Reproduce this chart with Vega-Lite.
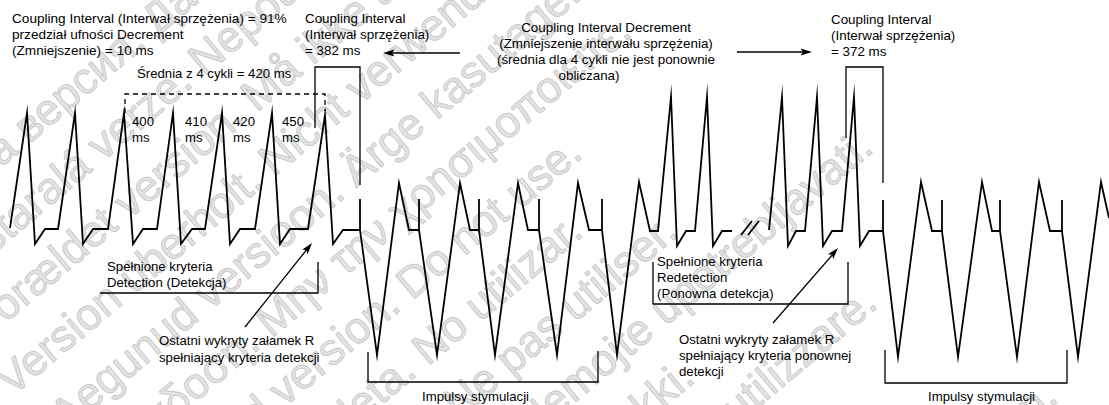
{
  "$schema": "https://vega.github.io/schema/vega-lite/v6.json",
  "width": 1109,
  "height": 405,
  "autosize": {"type": "none"},
  "padding": 0,
  "background": "white",
  "config": {"view": {"stroke": null}},
  "datasets": {
    "watermark": [
      {"x":151,"y":25,"t":"Остаряла версия. Да не се използва."},
      {"x":160,"y":97,"t":"Zastaralá verze. Nepoužívat."},
      {"x":253,"y":99,"t":"Forældet version. Må ikke anvendes."},
      {"x":265,"y":168,"t":"Version überholt. Nicht verwenden."},
      {"x":316,"y":205,"t":"Aegunud versioon. Ärge kasutage."},
      {"x":332,"y":271,"t":"Παλιά έκδοση. Μην την χρησιμοποιείτε."},
      {"x":352,"y":334,"t":"Outdated version. Do not use."},
      {"x":364,"y":403,"t":"Versión obsoleta. No utilizar."},
      {"x":427,"y":430,"t":"Version obsolète. Ne pas utiliser."},
      {"x":558,"y":400,"t":"Zastarjela verzija. Nemojte upotrebljavati."},
      {"x":513,"y":518,"t":"Úrelt útgáfa. Notið ekki."},
      {"x":621,"y":506,"t":"Versione obsoleta. Non utilizzare."},
      {"x":792,"y":608,"t":"Verouderde versie. Niet gebruiken."}
    ],
    "wave": [
      {"s":"a","i":1,"x":10,"y":228},{"s":"a","i":2,"x":27,"y":113},{"s":"a","i":3,"x":35,"y":244},{"s":"a","i":4,"x":45,"y":229},{"s":"a","i":5,"x":58,"y":229},
      {"s":"a","i":6,"x":75,"y":113},{"s":"a","i":7,"x":83,"y":244},{"s":"a","i":8,"x":93,"y":229},{"s":"a","i":9,"x":108,"y":229},
      {"s":"a","i":10,"x":124,"y":113},{"s":"a","i":11,"x":133,"y":244},{"s":"a","i":12,"x":143,"y":229},{"s":"a","i":13,"x":157,"y":229},
      {"s":"a","i":14,"x":173,"y":113},{"s":"a","i":15,"x":181,"y":244},{"s":"a","i":16,"x":192,"y":229},{"s":"a","i":17,"x":205,"y":229},
      {"s":"a","i":18,"x":222,"y":113},{"s":"a","i":19,"x":230,"y":244},{"s":"a","i":20,"x":240,"y":229},{"s":"a","i":21,"x":255,"y":229},
      {"s":"a","i":22,"x":272,"y":113},{"s":"a","i":23,"x":280,"y":244},{"s":"a","i":24,"x":290,"y":229},{"s":"a","i":25,"x":308,"y":229},
      {"s":"a","i":26,"x":325,"y":115},{"s":"a","i":27,"x":333,"y":244},{"s":"a","i":28,"x":343,"y":230},{"s":"a","i":29,"x":360,"y":230},
      {"s":"a","i":30,"x":360,"y":199},{"s":"a","i":31,"x":360,"y":230},{"s":"a","i":32,"x":377,"y":355},{"s":"a","i":33,"x":399,"y":183},{"s":"a","i":34,"x":409,"y":230},{"s":"a","i":35,"x":419,"y":230},
      {"s":"a","i":36,"x":419,"y":199},{"s":"a","i":37,"x":419,"y":230},{"s":"a","i":38,"x":437,"y":355},{"s":"a","i":39,"x":460,"y":183},{"s":"a","i":40,"x":470,"y":230},{"s":"a","i":41,"x":479,"y":230},
      {"s":"a","i":42,"x":479,"y":199},{"s":"a","i":43,"x":479,"y":230},{"s":"a","i":44,"x":495,"y":355},{"s":"a","i":45,"x":518,"y":183},{"s":"a","i":46,"x":528,"y":230},{"s":"a","i":47,"x":539,"y":230},
      {"s":"a","i":48,"x":539,"y":199},{"s":"a","i":49,"x":539,"y":230},{"s":"a","i":50,"x":557,"y":355},{"s":"a","i":51,"x":578,"y":183},{"s":"a","i":52,"x":589,"y":230},{"s":"a","i":53,"x":602,"y":230},
      {"s":"a","i":54,"x":602,"y":199},{"s":"a","i":55,"x":602,"y":230},{"s":"a","i":56,"x":617,"y":355},{"s":"a","i":57,"x":639,"y":182},{"s":"a","i":58,"x":650,"y":231},{"s":"a","i":59,"x":658,"y":231},
      {"s":"a","i":60,"x":671,"y":97},{"s":"a","i":61,"x":677,"y":246},{"s":"a","i":62,"x":686,"y":231},{"s":"a","i":63,"x":695,"y":231},
      {"s":"a","i":64,"x":707,"y":97},{"s":"a","i":65,"x":713,"y":246},{"s":"a","i":66,"x":722,"y":231},{"s":"a","i":67,"x":732,"y":231},
      {"s":"b","i":1,"x":769,"y":230},{"s":"b","i":2,"x":782,"y":97},{"s":"b","i":3,"x":788,"y":246},{"s":"b","i":4,"x":796,"y":231},{"s":"b","i":5,"x":805,"y":231},
      {"s":"b","i":6,"x":817,"y":97},{"s":"b","i":7,"x":823,"y":246},{"s":"b","i":8,"x":832,"y":231},{"s":"b","i":9,"x":842,"y":231},
      {"s":"b","i":10,"x":854,"y":97},{"s":"b","i":11,"x":860,"y":246},{"s":"b","i":12,"x":869,"y":231},{"s":"b","i":13,"x":883,"y":231},
      {"s":"b","i":14,"x":883,"y":200},{"s":"b","i":15,"x":883,"y":231},{"s":"b","i":16,"x":898,"y":357},{"s":"b","i":17,"x":921,"y":182},{"s":"b","i":18,"x":932,"y":231},{"s":"b","i":19,"x":942,"y":231},
      {"s":"b","i":20,"x":942,"y":200},{"s":"b","i":21,"x":942,"y":231},{"s":"b","i":22,"x":958,"y":357},{"s":"b","i":23,"x":982,"y":182},{"s":"b","i":24,"x":992,"y":231},{"s":"b","i":25,"x":1000,"y":231},
      {"s":"b","i":26,"x":1000,"y":200},{"s":"b","i":27,"x":1000,"y":231},{"s":"b","i":28,"x":1017,"y":357},{"s":"b","i":29,"x":1039,"y":182},{"s":"b","i":30,"x":1050,"y":231},{"s":"b","i":31,"x":1062,"y":231},
      {"s":"b","i":32,"x":1062,"y":200},{"s":"b","i":33,"x":1062,"y":231},{"s":"b","i":34,"x":1078,"y":357},{"s":"b","i":35,"x":1101,"y":182},{"s":"b","i":36,"x":1109,"y":218},
      {"s":"c","i":1,"x":741,"y":235},{"s":"c","i":2,"x":752,"y":221},
      {"s":"d","i":1,"x":748,"y":235},{"s":"d","i":2,"x":759,"y":221}
    ],
    "guide": [
      {"s":"box1","i":1,"x":315,"y":128},{"s":"box1","i":2,"x":315,"y":67},{"s":"box1","i":3,"x":360,"y":67},{"s":"box1","i":4,"x":360,"y":185},
      {"s":"box2","i":1,"x":846,"y":138},{"s":"box2","i":2,"x":846,"y":67},{"s":"box2","i":3,"x":883,"y":67},{"s":"box2","i":4,"x":883,"y":183},
      {"s":"det","i":1,"x":100,"y":293},{"s":"det","i":2,"x":318,"y":293},{"s":"det","i":3,"x":318,"y":262},
      {"s":"redet","i":1,"x":653,"y":262},{"s":"redet","i":2,"x":653,"y":304},{"s":"redet","i":3,"x":848,"y":304},{"s":"redet","i":4,"x":848,"y":262},
      {"s":"imp1","i":1,"x":368,"y":352},{"s":"imp1","i":2,"x":368,"y":382},{"s":"imp1","i":3,"x":598,"y":382},{"s":"imp1","i":4,"x":598,"y":351},
      {"s":"imp2","i":1,"x":885,"y":350},{"s":"imp2","i":2,"x":885,"y":383},{"s":"imp2","i":3,"x":1067,"y":383},{"s":"imp2","i":4,"x":1067,"y":350}
    ],
    "dash": [
      {"s":"avg","i":1,"x":125,"y":113},{"s":"avg","i":2,"x":125,"y":94},{"s":"avg","i":3,"x":325,"y":94},{"s":"avg","i":4,"x":325,"y":111}
    ],
    "arrow": [
      {"x":460,"y":53,"x2":389,"y2":53,"hx":383,"hy":53,"ang":270},
      {"x":737,"y":52,"x2":806,"y2":52,"hx":812,"hy":52,"ang":90},
      {"x":245,"y":327,"x2":308,"y2":248,"hx":312,"hy":243,"ang":38.6},
      {"x":773,"y":323,"x2":834,"y2":253,"hx":838,"hy":248,"ang":41}
    ],
    "label": [
      {"x":12,"y":23,"t":"Coupling Interval (Interwał sprzężenia) = 91%","a":"left","f":13.6},
      {"x":12,"y":39,"t":"przedział ufności Decrement","a":"left","f":13.6},
      {"x":12,"y":55,"t":"(Zmniejszenie) = 10 ms","a":"left","f":13.6},
      {"x":305,"y":23,"t":"Coupling Interval","a":"left","f":13.4},
      {"x":305,"y":39,"t":"(Interwał sprzężenia)","a":"left","f":13.4},
      {"x":305,"y":55,"t":"= 382 ms","a":"left","f":13.4},
      {"x":606,"y":32,"t":"Coupling Interval Decrement","a":"center","f":13.4},
      {"x":606,"y":48,"t":"(Zmniejszenie interwału sprzężenia)","a":"center","f":13.4},
      {"x":606,"y":64,"t":"(średnia dla 4 cykli nie jest ponownie","a":"center","f":13.4},
      {"x":589,"y":80,"t":"obliczana)","a":"center","f":13.4},
      {"x":831,"y":24,"t":"Coupling Interval","a":"left","f":13.4},
      {"x":831,"y":40,"t":"(Interwał sprzężenia)","a":"left","f":13.4},
      {"x":831,"y":56,"t":"= 372 ms","a":"left","f":13.4},
      {"x":137,"y":78,"t":"Średnia z 4 cykli = 420 ms","a":"left","f":13.2},
      {"x":132,"y":126,"t":"400","a":"left","f":13.2},{"x":132,"y":142,"t":"ms","a":"left","f":13.2},
      {"x":185,"y":126,"t":"410","a":"left","f":13.2},{"x":185,"y":142,"t":"ms","a":"left","f":13.2},
      {"x":233,"y":126,"t":"420","a":"left","f":13.2},{"x":233,"y":142,"t":"ms","a":"left","f":13.2},
      {"x":282,"y":126,"t":"450","a":"left","f":13.2},{"x":282,"y":142,"t":"ms","a":"left","f":13.2},
      {"x":107,"y":271,"t":"Spełnione kryteria","a":"left","f":13.2},
      {"x":107,"y":287,"t":"Detection (Detekcja)","a":"left","f":13.2},
      {"x":159,"y":345,"t":"Ostatni wykryty załamek R","a":"left","f":13.2},
      {"x":159,"y":362,"t":"spełniający kryteria detekcji","a":"left","f":13.2},
      {"x":657,"y":266,"t":"Spełnione kryteria","a":"left","f":13.2},
      {"x":657,"y":282,"t":"Redetection","a":"left","f":13.2},
      {"x":657,"y":298,"t":"(Ponowna detekcja)","a":"left","f":13.2},
      {"x":679,"y":344,"t":"Ostatni wykryty załamek R","a":"left","f":13.2},
      {"x":679,"y":360,"t":"spełniający kryteria ponownej","a":"left","f":13.2},
      {"x":679,"y":376,"t":"detekcji","a":"left","f":13.2},
      {"x":422,"y":401,"t":"Impulsy stymulacji","a":"left","f":13.2},
      {"x":928,"y":401,"t":"Impulsy stymulacji","a":"left","f":13.2}
    ]
  },
  "encoding": {
    "x": {"field": "x", "type": "quantitative", "scale": {"domain": [0, 1109], "nice": false, "zero": false}, "axis": null},
    "y": {"field": "y", "type": "quantitative", "scale": {"domain": [0, 405], "reverse": true, "nice": false, "zero": false}, "axis": null}
  },
  "layer": [
    {
      "data": {"name": "watermark"},
      "mark": {"type": "text", "font": "Liberation Sans", "fontSize": 44, "angle": 320, "align": "center", "baseline": "middle", "fill": "#e2e2e2", "stroke": "#c2c2c2", "strokeWidth": 0.7},
      "encoding": {"text": {"field": "t"}}
    },
    {
      "data": {"name": "guide"},
      "mark": {"type": "line", "color": "black", "strokeWidth": 1.3, "strokeJoin": "miter"},
      "encoding": {"detail": {"field": "s"}, "order": {"field": "i", "type": "quantitative"}}
    },
    {
      "data": {"name": "dash"},
      "mark": {"type": "line", "color": "black", "strokeWidth": 1.3, "strokeDash": [5, 4]},
      "encoding": {"detail": {"field": "s"}, "order": {"field": "i", "type": "quantitative"}}
    },
    {
      "data": {"name": "wave"},
      "mark": {"type": "line", "color": "black", "strokeWidth": 1.8, "strokeJoin": "miter", "strokeMiterLimit": 20, "clip": true},
      "encoding": {"detail": {"field": "s"}, "order": {"field": "i", "type": "quantitative"}}
    },
    {
      "data": {"name": "arrow"},
      "mark": {"type": "rule", "color": "black", "strokeWidth": 1.3},
      "encoding": {"x2": {"field": "x2"}, "y2": {"field": "y2"}}
    },
    {
      "data": {"name": "arrow"},
      "mark": {"type": "point", "shape": "M0,0 L0.6,1.9 L0,1.5 L-0.6,1.9 Z", "filled": true, "color": "black", "size": 144, "opacity": 1},
      "encoding": {
        "x": {"field": "hx", "type": "quantitative"},
        "y": {"field": "hy", "type": "quantitative"},
        "angle": {"field": "ang", "type": "quantitative", "scale": null}
      }
    },
    {
      "data": {"name": "label"},
      "transform": [{"filter": "datum.a === 'left'"}],
      "mark": {"type": "text", "font": "Liberation Sans", "color": "black", "baseline": "alphabetic", "align": "left"},
      "encoding": {"text": {"field": "t"}, "size": {"field": "f", "type": "quantitative", "scale": null}}
    },
    {
      "data": {"name": "label"},
      "transform": [{"filter": "datum.a === 'center'"}],
      "mark": {"type": "text", "font": "Liberation Sans", "color": "black", "baseline": "alphabetic", "align": "center"},
      "encoding": {"text": {"field": "t"}, "size": {"field": "f", "type": "quantitative", "scale": null}}
    }
  ]
}
